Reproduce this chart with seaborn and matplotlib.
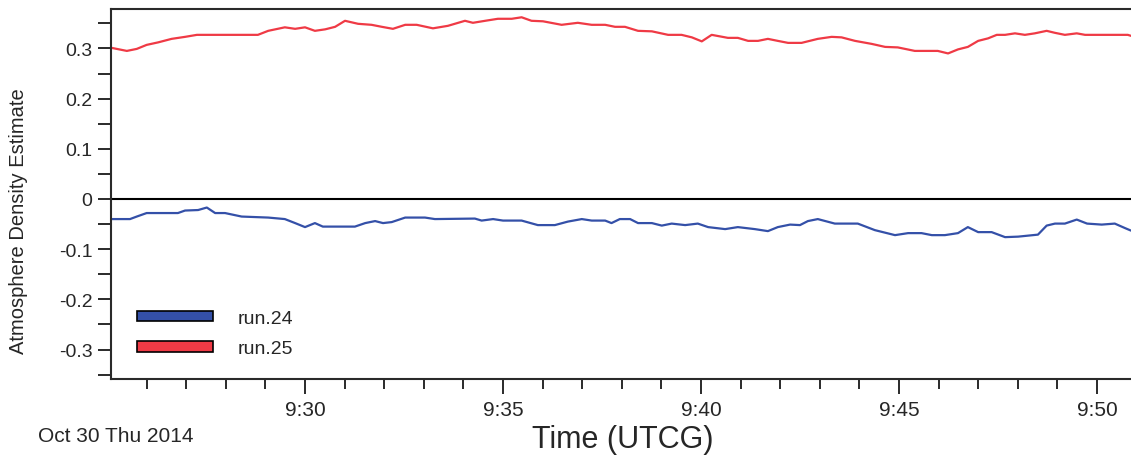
import matplotlib
matplotlib.use("Agg")
import matplotlib.pyplot as plt
import matplotlib.dates as mdates
from matplotlib.patches import Patch
import numpy as np
import pandas as pd
import seaborn as sns

# ---- data (time = minutes after 09:00 UTCG, Oct 30 2014) ----
run25_minutes = [25.12, 25.50, 25.75, 26.00, 26.29, 26.63, 26.97, 27.27, 28.81, 29.07,
                 29.49, 29.75, 30.00, 30.25, 30.51, 30.76, 31.01, 31.34, 31.68, 31.94,
                 32.22, 32.53, 32.82, 33.23, 33.61, 34.04, 34.24, 34.55, 34.87, 35.22,
                 35.47, 35.72, 36.01, 36.48, 36.89, 37.24, 37.58, 37.83, 38.08, 38.41,
                 38.76, 39.17, 39.51, 39.77, 40.02, 40.27, 40.68, 40.93, 41.19, 41.44,
                 41.69, 41.94, 42.20, 42.54, 42.95, 43.30, 43.55, 43.89, 44.31, 44.65,
                 44.97, 45.40, 45.98, 46.24, 46.49, 46.74, 47.00, 47.25, 47.47, 47.68,
                 47.93, 48.18, 48.43, 48.73, 48.94, 49.19, 49.49, 49.70, 50.78, 50.86]
run25_values = [0.301, 0.295, 0.299, 0.307, 0.312, 0.319, 0.323, 0.327, 0.327, 0.335,
                0.342, 0.339, 0.342, 0.335, 0.338, 0.343, 0.355, 0.349, 0.347, 0.343,
                0.339, 0.347, 0.347, 0.340, 0.345, 0.355, 0.351, 0.355, 0.359, 0.359,
                0.362, 0.355, 0.354, 0.347, 0.351, 0.347, 0.347, 0.343, 0.343, 0.335,
                0.334, 0.327, 0.327, 0.322, 0.314, 0.327, 0.321, 0.321, 0.315, 0.315,
                0.319, 0.315, 0.311, 0.311, 0.319, 0.323, 0.322, 0.315, 0.309, 0.303,
                0.302, 0.295, 0.295, 0.290, 0.298, 0.303, 0.315, 0.320, 0.327, 0.327,
                0.330, 0.327, 0.330, 0.335, 0.331, 0.327, 0.330, 0.327, 0.327, 0.325]

run24_minutes = [25.12, 25.58, 25.75, 26.00, 26.79, 26.97, 27.30, 27.52, 27.73, 27.98,
                 28.40, 29.07, 29.49, 29.75, 30.00, 30.25, 30.45, 31.26, 31.52, 31.77,
                 31.97, 32.19, 32.53, 33.03, 33.28, 34.29, 34.46, 34.75, 35.00, 35.47,
                 35.88, 36.31, 36.64, 36.99, 37.24, 37.58, 37.74, 37.95, 38.21, 38.41,
                 38.76, 39.01, 39.26, 39.60, 39.92, 40.18, 40.61, 40.93, 41.36, 41.69,
                 41.94, 42.25, 42.50, 42.70, 42.95, 43.38, 43.96, 44.39, 44.90, 45.23,
                 45.57, 45.83, 46.16, 46.49, 46.74, 47.00, 47.34, 47.68, 48.01, 48.51,
                 48.73, 48.94, 49.19, 49.49, 49.75, 50.12, 50.45, 50.71, 50.86]
run24_values = [-0.040, -0.040, -0.035, -0.028, -0.028, -0.023, -0.022, -0.017, -0.028, -0.028,
                -0.035, -0.037, -0.040, -0.048, -0.056, -0.048, -0.055, -0.055, -0.048, -0.044,
                -0.048, -0.046, -0.037, -0.037, -0.040, -0.039, -0.043, -0.040, -0.043, -0.043,
                -0.052, -0.052, -0.045, -0.040, -0.043, -0.043, -0.048, -0.040, -0.040, -0.048,
                -0.048, -0.053, -0.049, -0.052, -0.049, -0.056, -0.060, -0.056, -0.060, -0.064,
                -0.056, -0.051, -0.052, -0.044, -0.040, -0.049, -0.049, -0.062, -0.072, -0.068,
                -0.068, -0.072, -0.072, -0.068, -0.056, -0.066, -0.066, -0.076, -0.075, -0.071,
                -0.053, -0.049, -0.049, -0.041, -0.049, -0.051, -0.049, -0.058, -0.063]

series_names = ["run.24", "run.25"]
series_colors = ["#3450a8", "#ef3a45"]
y_ticks = [-0.3, -0.2, -0.1, 0, 0.1, 0.2, 0.3]
y_tick_labels = ["-0.3", "-0.2", "-0.1", "0", "0.1", "0.2", "0.3"]
date_text = "Oct 30 Thu 2014"
x_label = "Time (UTCG)"
y_label = "Atmosphere Density Estimate"

base = pd.Timestamp("2014-10-30 09:00:00")
df = pd.concat([
    pd.DataFrame({"time": base + pd.to_timedelta(run24_minutes, unit="min"),
                  "value": run24_values, "series": series_names[0]}),
    pd.DataFrame({"time": base + pd.to_timedelta(run25_minutes, unit="min"),
                  "value": run25_values, "series": series_names[1]}),
], ignore_index=True)

sns.set_style("ticks")
plt.rcParams["font.family"] = ["Liberation Sans", "DejaVu Sans"]

fig = plt.figure(figsize=(11.31, 4.56), dpi=100)
ax = fig.add_axes([111 / 1131, 1 - 380 / 456, 1 - 111 / 1131, (380 - 10) / 456])

palette = dict(zip(series_names, series_colors))
sns.lineplot(data=df, x="time", y="value", hue="series", palette=palette,
             linewidth=1.6, ax=ax, legend=False, estimator=None, sort=False)

ax.axhline(0, color="black", linewidth=1.5, zorder=1)

ax.set_xlim(base + pd.Timedelta(minutes=25.10), base + pd.Timedelta(minutes=50.86))
ax.set_ylim(-0.3586, 0.3785)

ax.xaxis.set_major_locator(mdates.MinuteLocator(byminute=range(0, 60, 5)))
ax.xaxis.set_minor_locator(mdates.MinuteLocator())
ax.xaxis.set_major_formatter(mdates.DateFormatter("%-H:%M"))
ax.set_yticks(y_ticks)
ax.set_yticklabels(y_tick_labels)
ax.set_yticks(np.arange(-0.35, 0.36, 0.05), minor=True)

spine_color = "#2a2a2a"
for s in ["left", "bottom", "top"]:
    ax.spines[s].set_color(spine_color)
    ax.spines[s].set_linewidth(1.5)
ax.spines["right"].set_visible(False)

ax.tick_params(axis="x", which="major", direction="out", length=11, width=1.4,
               color=spine_color, labelsize=15, pad=4)
ax.tick_params(axis="x", which="minor", direction="out", length=7.5, width=1.4,
               color=spine_color)
ax.tick_params(axis="y", which="both", direction="out", length=9.5, width=1.4,
               color=spine_color, labelsize=14, pad=4)

ax.set_xlabel(x_label, fontsize=22)
ax.xaxis.label.set_va("center")
ax.xaxis.set_label_coords((623 - 111) / 1020, (380 - 440) / 370)
ax.set_ylabel(y_label, fontsize=14.5)
ax.yaxis.label.set_va("center")
ax.yaxis.set_label_coords((19 - 111) / 1020, (380 - 221) / 370)

fig.text(38 / 1131, 1 - 437 / 456, date_text, fontsize=15, ha="left", va="center")

handles = [Patch(facecolor=c, edgecolor="black", linewidth=1.2) for c in series_colors]
ax.legend(handles, series_names, loc="upper left",
          bbox_to_anchor=((137 - 111) / 1020, (380 - 311) / 370),
          frameon=False, fontsize=14, handlelength=3.9, handleheight=0.45,
          handletextpad=1.3, labelspacing=0.68, borderpad=0, borderaxespad=0)

fig.savefig("out.png", dpi=100)
